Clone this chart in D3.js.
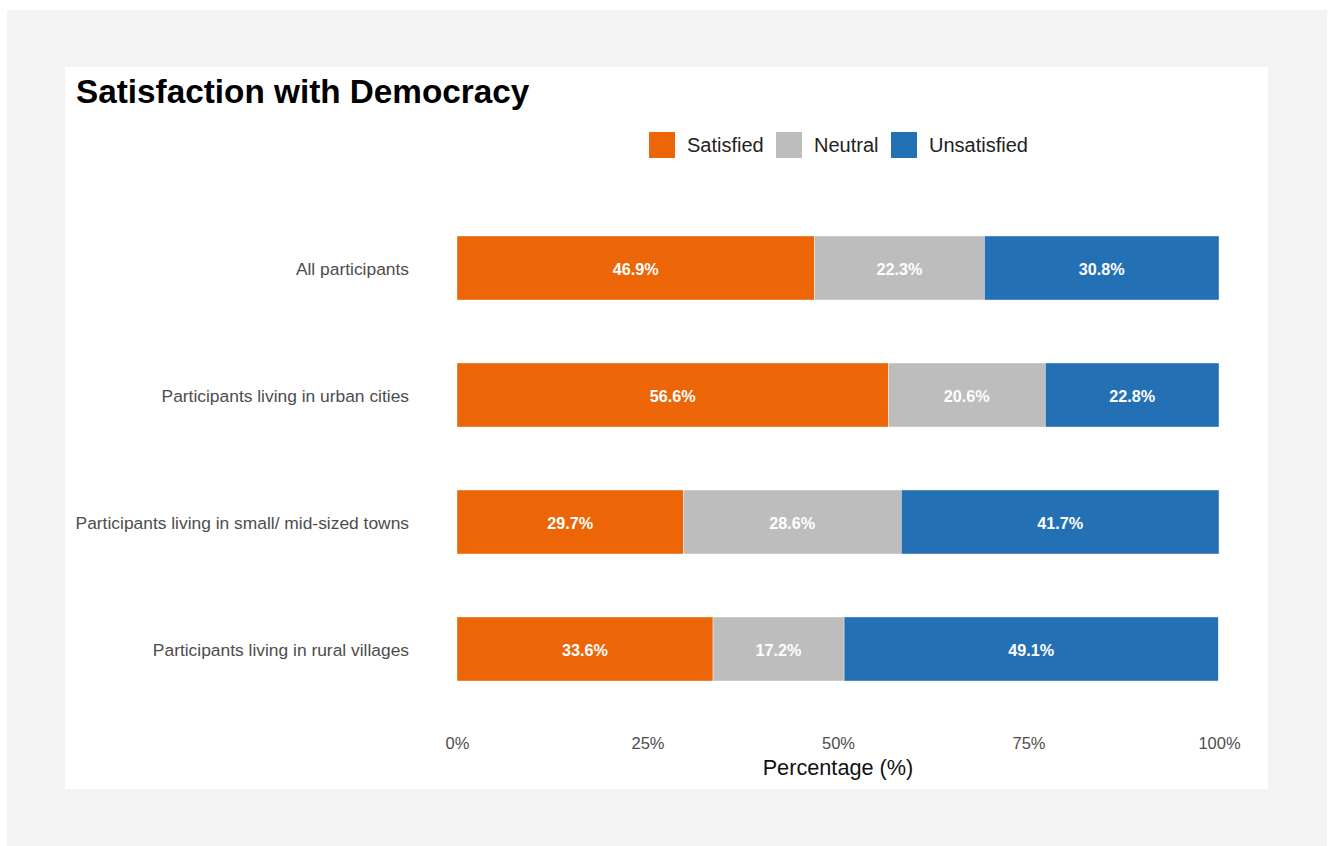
<!DOCTYPE html>
<html><head><meta charset="utf-8">
<script src="https://cdn.jsdelivr.net/npm/d3@7"></script>
<style>body{margin:0;background:#fff}svg{display:block;font-family:"Liberation Sans",Arial,sans-serif}</style>
</head><body>
<svg id="c" width="1331" height="846"></svg>
<script>
const categories = ["All participants","Participants living in urban cities","Participants living in small/ mid-sized towns","Participants living in rural villages"];
const seriesNames = ["Satisfied","Neutral","Unsatisfied"];
const satisfied = [46.9, 56.6, 29.7, 33.6];
const neutral = [22.3, 20.6, 28.6, 17.2];
const unsatisfied = [30.8, 22.8, 41.7, 49.1];
const tickValues = [0, 25, 50, 75, 100];
const colors = ["#EC6608", "#BDBDBD", "#2470B5"];

const svg = d3.select("#c");
svg.append("rect").attr("x",7).attr("y",10).attr("width",1320).attr("height",836).attr("fill","#f2f3f2");
svg.append("rect").attr("x",65).attr("y",67).attr("width",1203).attr("height",722).attr("fill","#fff");

const x = d3.scaleLinear().domain([0,100]).range([457,1219]);
const y = d3.scaleBand().domain(categories).range([204.5,712.5]).paddingInner(0.496).paddingOuter(0.248);

const rows = categories.map((c,i)=>({cat:c, vals:[satisfied[i],neutral[i],unsatisfied[i]]}));
const stackData = rows.map(r=>{const o={cat:r.cat}; seriesNames.forEach((s,j)=>o[s]=r.vals[j]); return o;});
const stacked = d3.stack().keys(seriesNames)(stackData);

const g = svg.append("g");
stacked.forEach((layer,j)=>{
  const lg = g.append("g");
  lg.selectAll("rect").data(layer).join("rect")
    .attr("x",d=>x(d[0])).attr("width",d=>x(d[1])-x(d[0]))
    .attr("y",d=>y(d.data.cat)).attr("height",y.bandwidth())
    .attr("fill",colors[j]).attr("stroke","#fff").attr("stroke-width",0.4);
  lg.selectAll("text").data(layer).join("text")
    .attr("x",d=>(x(d[0])+x(d[1]))/2).attr("y",d=>y(d.data.cat)+y.bandwidth()/2+1)
    .attr("dy","0.36em").attr("text-anchor","middle")
    .attr("fill","#fff").attr("font-weight","bold").attr("font-size",16.2)
    .text(d=>(d[1]-d[0]).toFixed(1)+"%");
});

// y axis labels
const yAxis = d3.axisLeft(y).tickSize(0).tickPadding(0);
const ya = svg.append("g").attr("transform","translate(409,1)").call(yAxis);
ya.select(".domain").remove();
ya.selectAll("text").attr("font-size",17.4).attr("fill","#4d4d4d").attr("font-family","Liberation Sans, Arial, sans-serif");

// x axis
const xAxis = d3.axisBottom(x).tickValues(tickValues).tickFormat(d=>d+"%").tickSize(0).tickPadding(0);
const xa = svg.append("g").attr("transform","translate(0,737)").call(xAxis);
xa.select(".domain").remove();
xa.selectAll("text").attr("font-size",16.5).attr("fill","#4d4d4d").attr("font-family","Liberation Sans, Arial, sans-serif");

svg.append("text").attr("x",838).attr("y",775).attr("text-anchor","middle")
  .attr("font-size",21.7).attr("fill","#111").text("Percentage (%)");

svg.append("text").attr("x",76).attr("y",103).attr("font-size",33.3).attr("font-weight","bold")
  .attr("fill","#000").text("Satisfaction with Democracy");

// legend
const legX = [649, 776, 891];
seriesNames.forEach((s,j)=>{
  svg.append("rect").attr("x",legX[j]).attr("y",132).attr("width",26).attr("height",26).attr("fill",colors[j]);
  svg.append("text").attr("x",legX[j]+38).attr("y",145).attr("dy","0.36em")
    .attr("font-size",20).attr("fill","#222").text(s);
});
</script>
</body></html>
